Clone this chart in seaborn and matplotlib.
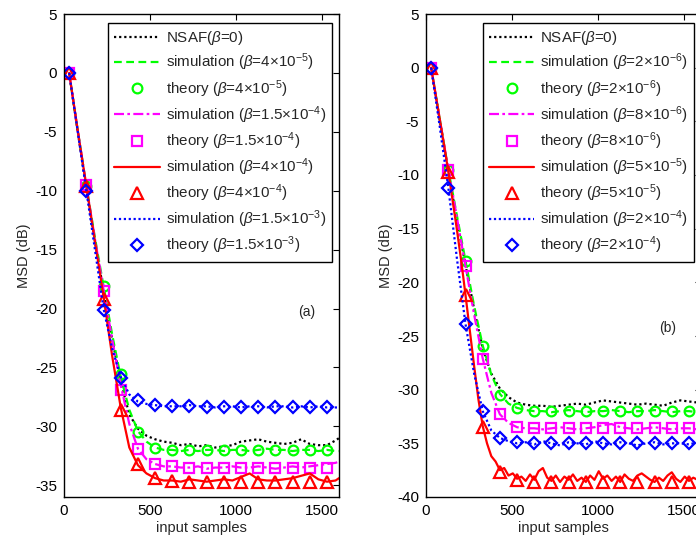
import matplotlib
matplotlib.use("Agg")
import matplotlib.pyplot as plt
import seaborn as sns

# ---------------- data ----------------
x_sim = [30, 80, 130, 180, 230, 280, 330, 380, 430, 480, 530, 580, 630, 680, 730, 780,
         830, 880, 930, 980, 1030, 1080, 1130, 1180, 1230, 1280, 1330, 1380, 1430, 1480,
         1530, 1580, 1600]
x_fine = [30, 55, 80, 105, 130, 155, 180, 205, 230, 255, 280, 305, 330, 355, 380, 405,
          430, 455, 480, 505, 530, 555, 580, 605, 630, 655, 680, 705, 730, 755, 780, 805,
          830, 855, 880, 905, 930, 955, 980, 1005, 1030, 1055, 1080, 1105, 1130, 1155,
          1180, 1205, 1230, 1255, 1280, 1305, 1330, 1355, 1380, 1405, 1430, 1455, 1480,
          1505, 1530, 1555, 1580, 1600]
x_theory = [30, 130, 230, 330, 430, 530, 630, 730, 830, 930, 1030, 1130, 1230, 1330,
            1430, 1530]

# panel (a)
a_nsaf = [0, -5.0, -9.8, -14.3, -18.5, -22.6, -26.2, -29.0, -30.2, -30.8, -31.1, -31.3,
          -31.4, -31.6, -31.5, -31.7, -31.6, -31.8, -31.7, -31.6, -31.3, -31.2, -31.1,
          -31.3, -31.4, -31.5, -31.4, -31.1, -31.5, -31.6, -31.6, -31.2, -31.0]
a_sim1 = [0, -4.9, -9.6, -14.0, -18.1, -22.2, -25.8, -28.6, -30.4, -31.3, -31.8, -32.0,
          -32.0, -32.1, -32.0, -32.1, -32.0, -32.0, -32.1, -32.0, -32.0, -32.1, -32.0,
          -31.9, -32.0, -32.0, -32.1, -32.0, -32.0, -32.1, -32.0, -32.1, -32.1]
a_sim2 = [0, -4.9, -9.6, -14.1, -18.4, -22.6, -26.5, -29.8, -31.9, -32.8, -33.2, -33.4,
          -33.4, -33.5, -33.5, -33.4, -33.6, -33.5, -33.5, -33.4, -33.5, -33.5, -33.4,
          -33.5, -33.6, -33.5, -33.4, -33.5, -33.4, -33.3, -33.2, -33.1, -33.0]
a_sim3 = [0, -4.9, -9.6, -14.3, -19.0, -24.0, -28.4, -31.8, -33.3, -34.0, -34.4, -34.6,
          -34.6, -34.7, -34.5, -34.6, -34.7, -34.6, -34.5, -34.6, -34.3, -34.0, -34.5,
          -34.6, -34.6, -34.5, -34.4, -34.2, -34.0, -34.5, -34.7, -34.6, -34.4]
a_sim4 = [0, -5.0, -10.0, -15.0, -20.0, -23.4, -25.8, -27.3, -27.9, -28.1, -28.2, -28.3,
          -28.3, -28.3, -28.2, -28.3, -28.3, -28.4, -28.3, -28.3, -28.4, -28.3, -28.3,
          -28.4, -28.3, -28.3, -28.4, -28.3, -28.4, -28.3, -28.4, -28.4, -28.4]
a_th1 = [0, -9.6, -18.1, -25.6, -30.5, -31.8, -32.0, -32.0, -32.0, -32.0, -32.0, -32.0,
         -32.0, -32.0, -32.0, -32.0]
a_th2 = [0, -9.5, -18.5, -26.9, -31.9, -33.2, -33.4, -33.5, -33.5, -33.5, -33.5, -33.5,
         -33.5, -33.5, -33.5, -33.5]
a_th3 = [0, -9.6, -19.2, -28.6, -33.2, -34.4, -34.6, -34.7, -34.7, -34.7, -34.7, -34.7,
         -34.7, -34.7, -34.7, -34.7]
a_th4 = [0, -10.0, -20.1, -25.9, -27.8, -28.2, -28.3, -28.3, -28.4, -28.4, -28.4, -28.4,
         -28.4, -28.4, -28.4, -28.4]
a_betas = [r"4$\times$10$^{-5}$", r"1.5$\times$10$^{-4}$", r"4$\times$10$^{-4}$",
           r"1.5$\times$10$^{-3}$"]

# panel (b)
b_nsaf = [0, -4.9, -9.7, -14.2, -18.4, -22.5, -26.2, -28.5, -29.9, -30.7, -31.2, -31.4,
          -31.5, -31.5, -31.6, -31.5, -31.4, -31.3, -31.4, -31.2, -31.0, -31.1, -31.2,
          -31.3, -31.4, -31.3, -31.4, -31.5, -31.2, -31.0, -31.1, -31.2, -31.0]
b_sim1 = [0, -4.8, -9.5, -13.8, -18.0, -22.2, -25.9, -28.6, -30.4, -31.3, -31.7, -31.9,
          -32.0, -32.0, -32.1, -32.0, -31.9, -32.0, -32.1, -32.0, -32.0, -31.9, -32.0,
          -32.1, -32.0, -32.0, -31.9, -32.0, -32.1, -32.0, -32.0, -32.1, -32.0]
b_sim2 = [0, -4.8, -9.5, -14.0, -18.5, -23.0, -27.1, -30.3, -32.3, -33.1, -33.5, -33.6,
          -33.6, -33.7, -33.6, -33.5, -33.6, -33.7, -33.6, -33.5, -33.3, -33.2, -33.5,
          -33.6, -33.7, -33.6, -33.5, -33.6, -33.7, -33.6, -33.6, -33.7, -33.7]
b_sim3 = [0, -2.4, -4.8, -7.2, -9.7, -12.4, -15.1, -18.0, -21.2, -24.5, -27.8, -30.9,
          -33.4, -35.0, -36.2, -36.7, -37.5, -37.3, -38.0, -37.8, -38.3, -38.1, -38.5,
          -37.9, -38.4, -37.6, -37.3, -38.2, -38.5, -38.0, -38.6, -38.1, -38.4, -37.9,
          -38.5, -38.2, -38.6, -38.0, -38.4, -37.6, -38.3, -38.0, -38.5, -38.1, -38.6,
          -37.9, -38.3, -38.5, -38.0, -37.8, -38.1, -38.4, -38.6, -38.2, -38.5, -38.0,
          -37.7, -38.3, -38.6, -38.1, -38.5, -38.2, -38.4, -38.3]
b_sim4 = [0, -5.5, -11.2, -17.8, -23.9, -28.5, -32.0, -33.8, -34.5, -34.8, -35.0, -34.9,
          -35.1, -34.8, -35.0, -35.2, -34.9, -35.0, -35.1, -34.8, -35.0, -35.1, -34.9,
          -35.0, -35.2, -35.0, -34.9, -35.1, -35.0, -35.0, -35.1, -34.9, -35.0]
b_th1 = [0, -9.5, -18.0, -25.9, -30.5, -31.7, -32.0, -32.0, -32.0, -32.0, -32.0, -32.0,
         -32.0, -32.0, -32.0, -32.0]
b_th2 = [0, -9.5, -18.5, -27.1, -32.3, -33.5, -33.6, -33.6, -33.6, -33.6, -33.6, -33.6,
         -33.6, -33.6, -33.6, -33.6]
b_th3 = [0, -9.7, -21.2, -33.5, -37.7, -38.4, -38.6, -38.6, -38.6, -38.6, -38.6, -38.6,
         -38.6, -38.6, -38.6, -38.6]
b_th4 = [0, -11.2, -23.9, -32.0, -34.5, -34.9, -35.0, -35.0, -35.0, -35.0, -35.0, -35.0,
         -35.0, -35.0, -35.0, -35.0]
b_betas = [r"2$\times$10$^{-6}$", r"8$\times$10$^{-6}$", r"5$\times$10$^{-5}$",
           r"2$\times$10$^{-4}$"]

x_ticks = [0, 500, 1000, 1500]
a_yticks = [5, 0, -5, -10, -15, -20, -25, -30, -35]
b_yticks = [5, 0, -5, -10, -15, -20, -25, -30, -35, -40]

# ---------------- style ----------------
sns.set_theme(style="white")
plt.rcParams["font.family"] = ["Liberation Sans", "DejaVu Sans"]
plt.rcParams["mathtext.fontset"] = "custom"
plt.rcParams["mathtext.rm"] = "Liberation Sans"
plt.rcParams["mathtext.it"] = "Liberation Sans:italic"
plt.rcParams["mathtext.default"] = "regular"
plt.rcParams["axes.unicode_minus"] = False

FS = 10.5
LFS = 10.9
TFS = 11
colors = ["#00ff00", "#ff00ff", "#ff0000", "#0000ff"]
sim_styles = [(0, (3.5, 2.0)), (0, (4.5, 1.5, 1.2, 1.5)), "-", (0, (1, 1.2))]
markers = ["o", "s", "^", "D"]
msizes = [7, 7, 8, 6]

fig = plt.figure(figsize=(6.96, 5.40), dpi=100)
ax_a = fig.add_axes([64 / 696, 43 / 540, 275 / 696, 483 / 540])
ax_b = fig.add_axes([426 / 696, 43 / 540, 275 / 696, 483 / 540])


def draw(ax, nsaf, sims, sim_xs, ths, betas, ylim, yticks, tag, tag_xy):
    sns.lineplot(x=x_sim, y=nsaf, ax=ax, color="black", linestyle=(0, (1, 1.3)),
                 linewidth=1.6, label=r"NSAF($\mathit{\beta}$=0)", sort=False)
    for i in range(4):
        sns.lineplot(x=sim_xs[i], y=sims[i], ax=ax, color=colors[i],
                     linestyle=sim_styles[i], linewidth=1.6, sort=False,
                     label=r"simulation ($\mathit{\beta}$=" + betas[i] + ")")
        sns.lineplot(x=x_theory, y=ths[i], ax=ax, color=colors[i], linestyle="",
                     marker=markers[i], markersize=msizes[i], markerfacecolor="none",
                     markeredgecolor=colors[i], markeredgewidth=1.6, sort=False,
                     label=r"theory ($\mathit{\beta}$=" + betas[i] + ")")
    ax.set_xlim(0, 1600)
    ax.set_ylim(*ylim)
    ax.set_xticks(x_ticks)
    ax.set_yticks(yticks)
    ax.set_xlabel("input samples", fontsize=FS, labelpad=2)
    ax.set_ylabel("MSD (dB)", fontsize=FS, labelpad=3)
    ax.tick_params(direction="in", top=True, right=True, length=4, width=0.8,
                   labelsize=TFS, colors="black", pad=5)
    for s in ax.spines.values():
        s.set_color("black")
        s.set_linewidth(1.0)
    h, l = ax.get_legend_handles_labels()
    leg = ax.legend(h, l, loc="upper right", bbox_to_anchor=(0.975, 0.981),
                    borderaxespad=0, fontsize=LFS, frameon=True, fancybox=False,
                    edgecolor="black", framealpha=1, handlelength=3.0,
                    handletextpad=0.4, labelspacing=0.3, borderpad=0.4,
                    numpoints=1)
    leg.get_frame().set_linewidth(1.0)
    ax.text(tag_xy[0], tag_xy[1], tag, ha="center", va="center", fontsize=FS - 0.5)


draw(ax_a, a_nsaf, [a_sim1, a_sim2, a_sim3, a_sim4], [x_sim, x_sim, x_sim, x_sim],
     [a_th1, a_th2, a_th3, a_th4], a_betas, (-36, 5), a_yticks, "(a)", (1410, -20.3))
draw(ax_b, b_nsaf, [b_sim1, b_sim2, b_sim3, b_sim4], [x_sim, x_sim, x_fine, x_sim],
     [b_th1, b_th2, b_th3, b_th4], b_betas, (-40, 5), b_yticks, "(b)", (1408, -24.3))

fig.savefig("out.png", dpi=100)
